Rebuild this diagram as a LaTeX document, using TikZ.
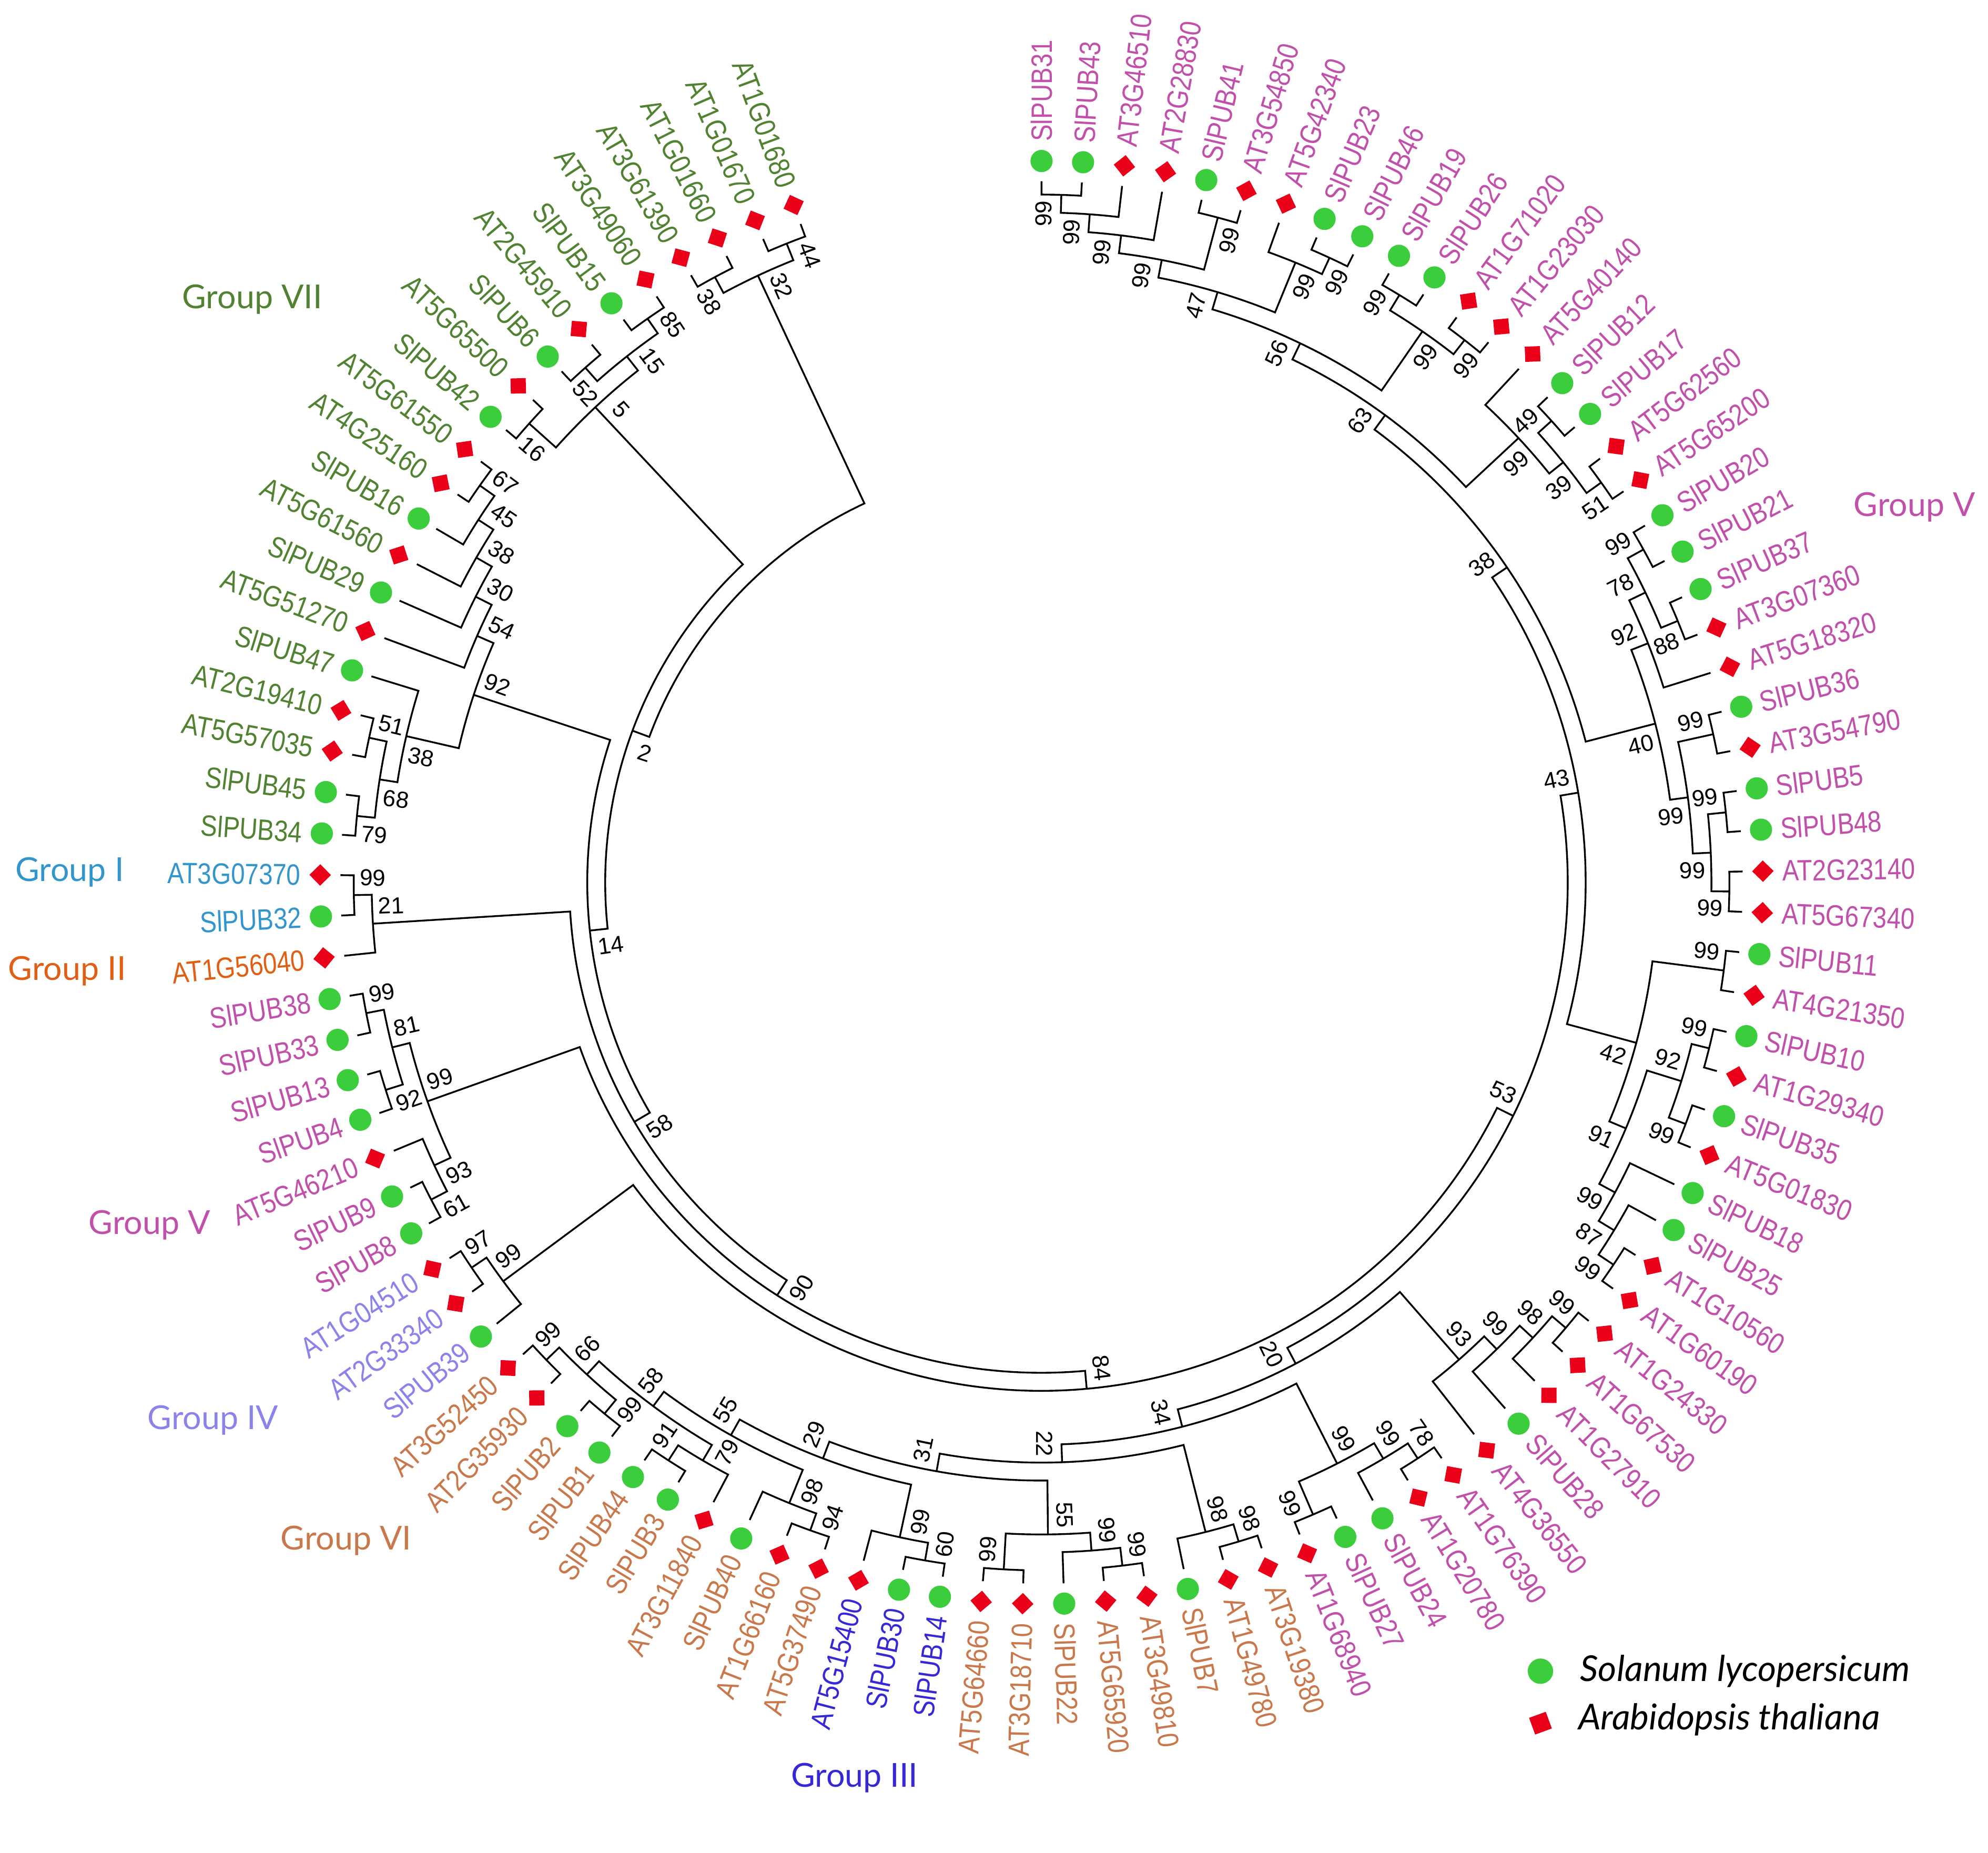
\documentclass[tikz,border=0pt]{standalone}
\usepackage{fontspec}
\setmainfont{Liberation Sans}
\newfontfamily\leaffont[FakeStretch=0.85]{Liberation Sans}
\newfontfamily\grpfont{Lato}
\usetikzlibrary{positioning}

\definecolor{grpV}{RGB}{192,80,170}
\definecolor{grpVI}{RGB}{200,120,75}
\definecolor{grpIII}{RGB}{55,40,215}
\definecolor{grpIV}{RGB}{140,130,235}
\definecolor{grpII}{RGB}{225,95,20}
\definecolor{grpI}{RGB}{50,150,205}
\definecolor{grpVII}{RGB}{80,130,50}
\definecolor{mkgreen}{RGB}{60,205,60}
\definecolor{mkred}{RGB}{235,0,25}

% leaf: index, name, colour, marker (c = circle, s = square)
\newcommand{\tleaf}[4]{%
  \pgfmathsetmacro\tA{90-3.3*#1}%
  \expandafter\xdef\csname tA@t#1\endcsname{\tA}%
  \expandafter\xdef\csname tH@t#1\endcsname{0}%
  \expandafter\xdef\csname tR@t#1\endcsname{5.53}%
  \expandafter\gdef\csname tB@t#1\endcsname{}%
  \ifdim\tA pt<-90pt
    \pgfmathsetmacro\tRot{\tA+180}\def\tAnc{east}%
  \else
    \let\tRot\tA\def\tAnc{west}%
  \fi
  \coordinate (t#1) at (\tA:5.53);%
  \if#4c\node[dotmark] (m#1) at (\tA:5.69) {};%
  \else\node[sqmark, rotate=\tA+45] (m#1) at (\tA:5.69) {};\fi
  \node[leaflbl, text=#3, rotate=\tRot, anchor=\tAnc] (lab#1) at (\tA:5.82) {#2};%
}
% bootstrap value of a node, placed beside its incoming branch
\newcommand{\tboot}[2]{%
  \expandafter\ifx\csname tB@#1\endcsname\empty\else
    \pgfmathsetmacro\tLa{\csname tA@#1\endcsname+(#2)*7.9/\csname tR@#1\endcsname}%
    \pgfmathsetmacro\tLr{\csname tR@#1\endcsname-0.15}%
    \ifdim\tLa pt<-90pt\pgfmathsetmacro\tLrot{\tLa+180}\else\let\tLrot\tLa\fi
    \node[bstrap, rotate=\tLrot] (bs#1) at (\tLa:\tLr) {\csname tB@#1\endcsname};%
  \fi}
% internal node: name, first child, second child, bootstrap
\newcommand{\tnode}[4]{%
  \pgfmathsetmacro\tAa{\csname tA@#2\endcsname}%
  \pgfmathsetmacro\tAb{\csname tA@#3\endcsname}%
  \pgfmathsetmacro\tH{max(\csname tH@#2\endcsname,\csname tH@#3\endcsname)+1}%
  \pgfmathsetmacro\tR{5.567-0.1417*\tH}%
  \pgfmathsetmacro\tM{(\tAa+\tAb)/2}%
  \expandafter\xdef\csname tA@#1\endcsname{\tM}%
  \expandafter\xdef\csname tH@#1\endcsname{\tH}%
  \expandafter\xdef\csname tR@#1\endcsname{\tR}%
  \expandafter\gdef\csname tB@#1\endcsname{#4}%
  \coordinate (#1) at (\tM:\tR);%
  \draw[branch] (#2) -- (\tAa:\tR) arc[start angle=\tAa, end angle=\tAb, radius=\tR] -- (#3);%
  \tboot{#2}{1}\tboot{#3}{-1}%
}

\begin{document}
\begin{tikzpicture}[
    branch/.style={line width=0.4pt, black},
    bstrap/.style={font=\fontsize{5.2}{6}\selectfont, inner sep=0pt},
    leaflbl/.style={font=\leaffont\fontsize{6.6}{7.5}\selectfont, inner sep=0.5pt},
    dotmark/.style={circle, fill=mkgreen, minimum size=0.175cm, inner sep=0pt},
    sqmark/.style={rectangle, fill=mkred, minimum size=0.12cm, inner sep=0pt},
    grouplbl/.style={font=\grpfont\fontsize{7.4}{9}\selectfont},
    legtext/.style={font=\grpfont\itshape\fontsize{8}{10}\selectfont, inner sep=0pt}
]
\useasboundingbox[fill=white] (-8.215,-7.65) rectangle (7.465,6.96);

% Leaves, clockwise from the top
\tleaf{0}{SlPUB31}{grpV}{c}
\tleaf{1}{SlPUB43}{grpV}{c}
\tleaf{2}{AT3G46510}{grpV}{s}
\tleaf{3}{AT2G28830}{grpV}{s}
\tleaf{4}{SlPUB41}{grpV}{c}
\tleaf{5}{AT3G54850}{grpV}{s}
\tleaf{6}{AT5G42340}{grpV}{s}
\tleaf{7}{SlPUB23}{grpV}{c}
\tleaf{8}{SlPUB46}{grpV}{c}
\tleaf{9}{SlPUB19}{grpV}{c}
\tleaf{10}{SlPUB26}{grpV}{c}
\tleaf{11}{AT1G71020}{grpV}{s}
\tleaf{12}{AT1G23030}{grpV}{s}
\tleaf{13}{AT5G40140}{grpV}{s}
\tleaf{14}{SlPUB12}{grpV}{c}
\tleaf{15}{SlPUB17}{grpV}{c}
\tleaf{16}{AT5G62560}{grpV}{s}
\tleaf{17}{AT5G65200}{grpV}{s}
\tleaf{18}{SlPUB20}{grpV}{c}
\tleaf{19}{SlPUB21}{grpV}{c}
\tleaf{20}{SlPUB37}{grpV}{c}
\tleaf{21}{AT3G07360}{grpV}{s}
\tleaf{22}{AT5G18320}{grpV}{s}
\tleaf{23}{SlPUB36}{grpV}{c}
\tleaf{24}{AT3G54790}{grpV}{s}
\tleaf{25}{SlPUB5}{grpV}{c}
\tleaf{26}{SlPUB48}{grpV}{c}
\tleaf{27}{AT2G23140}{grpV}{s}
\tleaf{28}{AT5G67340}{grpV}{s}
\tleaf{29}{SlPUB11}{grpV}{c}
\tleaf{30}{AT4G21350}{grpV}{s}
\tleaf{31}{SlPUB10}{grpV}{c}
\tleaf{32}{AT1G29340}{grpV}{s}
\tleaf{33}{SlPUB35}{grpV}{c}
\tleaf{34}{AT5G01830}{grpV}{s}
\tleaf{35}{SlPUB18}{grpV}{c}
\tleaf{36}{SlPUB25}{grpV}{c}
\tleaf{37}{AT1G10560}{grpV}{s}
\tleaf{38}{AT1G60190}{grpV}{s}
\tleaf{39}{AT1G24330}{grpV}{s}
\tleaf{40}{AT1G67530}{grpV}{s}
\tleaf{41}{AT1G27910}{grpV}{s}
\tleaf{42}{SlPUB28}{grpV}{c}
\tleaf{43}{AT4G36550}{grpV}{s}
\tleaf{44}{AT1G76390}{grpV}{s}
\tleaf{45}{AT1G20780}{grpV}{s}
\tleaf{46}{SlPUB24}{grpV}{c}
\tleaf{47}{SlPUB27}{grpV}{c}
\tleaf{48}{AT1G68940}{grpV}{s}
\tleaf{49}{AT3G19380}{grpVI}{s}
\tleaf{50}{AT1G49780}{grpVI}{s}
\tleaf{51}{SlPUB7}{grpVI}{c}
\tleaf{52}{AT3G49810}{grpVI}{s}
\tleaf{53}{AT5G65920}{grpVI}{s}
\tleaf{54}{SlPUB22}{grpVI}{c}
\tleaf{55}{AT3G18710}{grpVI}{s}
\tleaf{56}{AT5G64660}{grpVI}{s}
\tleaf{57}{SlPUB14}{grpIII}{c}
\tleaf{58}{SlPUB30}{grpIII}{c}
\tleaf{59}{AT5G15400}{grpIII}{s}
\tleaf{60}{AT5G37490}{grpVI}{s}
\tleaf{61}{AT1G66160}{grpVI}{s}
\tleaf{62}{SlPUB40}{grpVI}{c}
\tleaf{63}{AT3G11840}{grpVI}{s}
\tleaf{64}{SlPUB3}{grpVI}{c}
\tleaf{65}{SlPUB44}{grpVI}{c}
\tleaf{66}{SlPUB1}{grpVI}{c}
\tleaf{67}{SlPUB2}{grpVI}{c}
\tleaf{68}{AT2G35930}{grpVI}{s}
\tleaf{69}{AT3G52450}{grpVI}{s}
\tleaf{70}{SlPUB39}{grpIV}{c}
\tleaf{71}{AT2G33340}{grpIV}{s}
\tleaf{72}{AT1G04510}{grpIV}{s}
\tleaf{73}{SlPUB8}{grpV}{c}
\tleaf{74}{SlPUB9}{grpV}{c}
\tleaf{75}{AT5G46210}{grpV}{s}
\tleaf{76}{SlPUB4}{grpV}{c}
\tleaf{77}{SlPUB13}{grpV}{c}
\tleaf{78}{SlPUB33}{grpV}{c}
\tleaf{79}{SlPUB38}{grpV}{c}
\tleaf{80}{AT1G56040}{grpII}{s}
\tleaf{81}{SlPUB32}{grpI}{c}
\tleaf{82}{AT3G07370}{grpI}{s}
\tleaf{83}{SlPUB34}{grpVII}{c}
\tleaf{84}{SlPUB45}{grpVII}{c}
\tleaf{85}{AT5G57035}{grpVII}{s}
\tleaf{86}{AT2G19410}{grpVII}{s}
\tleaf{87}{SlPUB47}{grpVII}{c}
\tleaf{88}{AT5G51270}{grpVII}{s}
\tleaf{89}{SlPUB29}{grpVII}{c}
\tleaf{90}{AT5G61560}{grpVII}{s}
\tleaf{91}{SlPUB16}{grpVII}{c}
\tleaf{92}{AT4G25160}{grpVII}{s}
\tleaf{93}{AT5G61550}{grpVII}{s}
\tleaf{94}{SlPUB42}{grpVII}{c}
\tleaf{95}{AT5G65500}{grpVII}{s}
\tleaf{96}{SlPUB6}{grpVII}{c}
\tleaf{97}{AT2G45910}{grpVII}{s}
\tleaf{98}{SlPUB15}{grpVII}{c}
\tleaf{99}{AT3G49060}{grpVII}{s}
\tleaf{100}{AT3G61390}{grpVII}{s}
\tleaf{101}{AT1G01660}{grpVII}{s}
\tleaf{102}{AT1G01670}{grpVII}{s}
\tleaf{103}{AT1G01680}{grpVII}{s}

% Group V (upper right)
\tnode{A1}{t0}{t1}{99}
\tnode{A2}{A1}{t2}{99}
\tnode{A3}{A2}{t3}{99}
\tnode{A4}{t4}{t5}{99}
\tnode{A5}{A3}{A4}{99}
\tnode{A6}{t7}{t8}{99}
\tnode{A7}{t6}{A6}{99}
\tnode{A8}{A5}{A7}{47}
\tnode{A9}{t9}{t10}{99}
\tnode{A10}{t11}{t12}{99}
\tnode{A11}{A9}{A10}{99}
\tnode{A12}{A8}{A11}{56}
\tnode{B1}{t14}{t15}{49}
\tnode{B2}{t16}{t17}{51}
\tnode{B3}{B1}{B2}{39}
\tnode{B4}{t13}{B3}{99}
\tnode{A13}{A12}{B4}{63}
\tnode{C1}{t18}{t19}{99}
\tnode{C2}{t20}{t21}{88}
\tnode{C3}{C1}{C2}{78}
\tnode{C4}{C3}{t22}{92}
\tnode{D1}{t23}{t24}{99}
\tnode{D2}{t25}{t26}{99}
\tnode{D3}{t27}{t28}{99}
\tnode{D4}{D2}{D3}{99}
\tnode{D5}{D1}{D4}{99}
\tnode{D6}{C4}{D5}{40}
\tnode{E1}{A13}{D6}{38}
\tnode{F1}{t29}{t30}{99}
\tnode{F2}{t31}{t32}{99}
\tnode{F3}{t33}{t34}{99}
\tnode{F4}{F2}{F3}{92}
\tnode{G1}{t37}{t38}{99}
\tnode{G2}{t36}{G1}{87}
\tnode{G3}{t35}{G2}{99}
\tnode{X1}{F4}{G3}{91}
\tnode{N1}{F1}{X1}{42}
\tnode{P1}{E1}{N1}{43}

% Group V (lower right) and Groups VI, III
\tnode{H1}{t39}{t40}{99}
\tnode{H2}{H1}{t41}{98}
\tnode{H3}{H2}{t42}{99}
\tnode{H4}{H3}{t43}{93}
\tnode{I2}{t44}{t45}{78}
\tnode{I3}{I2}{t46}{99}
\tnode{I1}{t47}{t48}{99}
\tnode{I4}{I3}{I1}{99}
\tnode{J1}{t49}{t50}{98}
\tnode{J2}{J1}{t51}{98}
\tnode{J3}{t52}{t53}{99}
\tnode{J4}{J3}{t54}{99}
\tnode{J5}{t55}{t56}{99}
\tnode{J6}{J4}{J5}{55}
\tnode{K1}{t57}{t58}{60}
\tnode{K2}{K1}{t59}{99}
\tnode{Y1}{t60}{t61}{94}
\tnode{Y2}{Y1}{t62}{98}
\tnode{Y3}{t64}{t65}{91}
\tnode{Y4}{t63}{Y3}{79}
\tnode{M2}{t66}{t67}{99}
\tnode{M1}{t68}{t69}{99}
\tnode{M3}{M2}{M1}{66}
\tnode{Y5}{Y4}{M3}{58}
\tnode{Z1}{Y2}{Y5}{55}
\tnode{W1}{K2}{Z1}{29}
\tnode{V1}{J6}{W1}{31}
\tnode{U1}{J2}{V1}{22}
\tnode{T1}{I4}{U1}{34}
\tnode{S1}{H4}{T1}{20}
\tnode{Q1}{P1}{S1}{53}

% Group IV and Group V (left)
\tnode{O1}{t71}{t72}{97}
\tnode{O2}{t70}{O1}{99}
\tnode{R1}{Q1}{O2}{84}
\tnode{P61}{t73}{t74}{61}
\tnode{P93}{P61}{t75}{93}
\tnode{P92}{t76}{t77}{92}
\tnode{P99a}{t78}{t79}{99}
\tnode{P81}{P92}{P99a}{81}
\tnode{P99b}{P93}{P81}{99}
\tnode{R2}{R1}{P99b}{90}

% Groups I and II
\tnode{C99}{t81}{t82}{99}
\tnode{C21}{t80}{C99}{21}
\tnode{R3}{R2}{C21}{58}

% Group VII
\tnode{V79}{t83}{t84}{79}
\tnode{V51}{t85}{t86}{51}
\tnode{V68}{V79}{V51}{68}
\tnode{V38}{V68}{t87}{38}
\tnode{V67}{t92}{t93}{67}
\tnode{V45}{t91}{V67}{45}
\tnode{V38b}{t90}{V45}{38}
\tnode{V30}{t89}{V38b}{30}
\tnode{V54}{t88}{V30}{54}
\tnode{V92}{V38}{V54}{92}
\tnode{R4}{R3}{V92}{14}
\tnode{V16}{t94}{t95}{16}
\tnode{V52}{t96}{t97}{52}
\tnode{V85}{t98}{t99}{85}
\tnode{V15}{V52}{V85}{15}
\tnode{V5}{V16}{V15}{5}
\tnode{R5}{R4}{V5}{2}
\tnode{V38e}{t100}{t101}{38}
\tnode{V44}{t102}{t103}{44}
\tnode{V32}{V38e}{V44}{32}
\tnode{ROOT}{R5}{V32}{}

% Group labels
\node[grouplbl, text=grpVII] (gVII) at (-6.225,4.60) {Group VII};
\node[grouplbl, text=grpV] (gVa) at (6.885,2.96) {Group V};
\node[grouplbl, text=grpI] (gI) at (-7.665,0.08) {Group I};
\node[grouplbl, text=grpII] (gII) at (-7.685,-0.70) {Group II};
\node[grouplbl, text=grpV] (gVb) at (-7.035,-2.70) {Group V};
\node[grouplbl, text=grpIV] (gIV) at (-6.535,-4.24) {Group IV};
\node[grouplbl, text=grpVI] (gVI) at (-5.485,-5.19) {Group VI};
\node[grouplbl, text=grpIII] (gIII) at (-1.475,-7.06) {Group III};

% Legend
\node[dotmark, minimum size=0.2cm] (lgc) at (3.935,-6.22) {};
\node[legtext, right=0.2cm of lgc] (lgct) {Solanum lycopersicum};
\node[sqmark, minimum size=0.14cm, rotate=20] (lgs) at (3.935,-6.63) {};
\node[legtext, right=0.22cm of lgs] (lgst) {Arabidopsis thaliana};

\end{tikzpicture}
\end{document}
